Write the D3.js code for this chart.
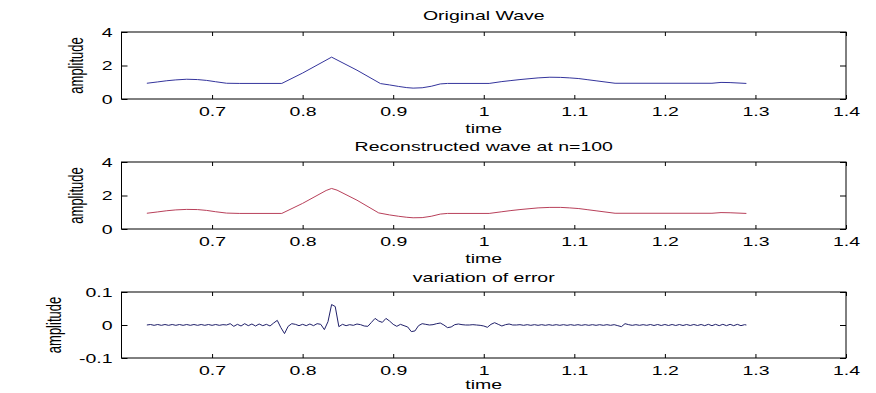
<!DOCTYPE html>
<html>
<head>
<meta charset="utf-8">
<script src="https://cdn.jsdelivr.net/npm/d3@7"></script>
<style>
  body { margin: 0; background: #fff; }
  text { font-family: "Liberation Sans", Arial, sans-serif; font-size: 13px; fill: #000; }
</style>
</head>
<body>
<div id="chart"></div>
<script>
"use strict";

// tick values (same x axis for all three panels)
const xTicks = [0.7, 0.8, 0.9, 1, 1.1, 1.2, 1.3, 1.4];
const waveYTicks = [0, 2, 4];
const errYTicks = [-0.1, 0, 0.1];

// original wave, [time, amplitude]
const originalWave = [
  [0.628, 0.94], [0.64, 1.02], [0.65, 1.09], [0.66, 1.14], [0.672, 1.18], [0.684, 1.16],
  [0.694, 1.11], [0.704, 1.03], [0.716, 0.94], [0.73, 0.93], [0.777, 0.93],
  [0.80, 1.55], [0.832, 2.5], [0.86, 1.72], [0.886, 0.92], [0.896, 0.84], [0.906, 0.75],
  [0.915, 0.68], [0.922, 0.65], [0.932, 0.67], [0.942, 0.76], [0.952, 0.9], [0.96, 0.93],
  [1.006, 0.93], [1.02, 1.04], [1.03, 1.1], [1.04, 1.16], [1.05, 1.21], [1.06, 1.26],
  [1.073, 1.3], [1.085, 1.29], [1.095, 1.26], [1.105, 1.22], [1.115, 1.15], [1.125, 1.08],
  [1.135, 1.01], [1.145, 0.94], [1.252, 0.94], [1.262, 0.99], [1.272, 0.98], [1.29, 0.93]
];

// reconstructed wave at n=100
const reconstructedWave = [
  [0.628, 0.94], [0.64, 1.02], [0.65, 1.09], [0.66, 1.14], [0.672, 1.17], [0.684, 1.16],
  [0.694, 1.11], [0.704, 1.03], [0.716, 0.95], [0.73, 0.93], [0.777, 0.93],
  [0.80, 1.53], [0.826, 2.3], [0.832, 2.42], [0.838, 2.32], [0.86, 1.72], [0.884, 0.96],
  [0.896, 0.84], [0.906, 0.76], [0.915, 0.7], [0.922, 0.67], [0.932, 0.68], [0.942, 0.76],
  [0.952, 0.89], [0.96, 0.93], [1.006, 0.93], [1.02, 1.03], [1.03, 1.1], [1.04, 1.16],
  [1.05, 1.21], [1.06, 1.26], [1.073, 1.29], [1.085, 1.29], [1.095, 1.26], [1.105, 1.22],
  [1.115, 1.15], [1.125, 1.08], [1.135, 1.01], [1.145, 0.94], [1.252, 0.94], [1.262, 0.98],
  [1.272, 0.97], [1.29, 0.93]
];

// error between the two, [time, error]
const errorWave = [
  [0.628, 0], [0.632, 0.0015], [0.636, -0.001], [0.64, 0.0015], [0.644, -0.001], [0.648, 0.0015],
  [0.652, -0.001], [0.656, 0.0015], [0.66, -0.001], [0.664, 0.0015], [0.668, -0.001], [0.672, 0.0015],
  [0.676, -0.001], [0.68, 0.0015], [0.684, -0.001], [0.688, 0.0015], [0.692, -0.001], [0.696, 0.0015],
  [0.70, -0.001], [0.704, 0.0015], [0.708, -0.001], [0.712, 0.001], [0.716, 0],
  [0.72, 0.004], [0.724, -0.004], [0.728, 0.002], [0.732, -0.003], [0.736, 0.004], [0.74, -0.002],
  [0.744, 0.003], [0.748, -0.003], [0.752, 0.003], [0.756, -0.002], [0.76, 0.002], [0.764, -0.003],
  [0.768, 0.006], [0.772, 0.014], [0.776, -0.008], [0.78, -0.026], [0.784, -0.004], [0.788, 0.004],
  [0.792, 0.002], [0.796, -0.002], [0.80, 0.002], [0.804, -0.002], [0.808, 0.003], [0.812, -0.002],
  [0.816, 0.004], [0.82, 0.002], [0.824, -0.014], [0.828, 0.01], [0.832, 0.062], [0.836, 0.056],
  [0.84, -0.005], [0.844, 0.002], [0.848, -0.002], [0.852, 0.001], [0.856, -0.001], [0.86, 0.003],
  [0.864, 0.001], [0.868, -0.003], [0.872, -0.004], [0.876, 0.008], [0.88, 0.02], [0.884, 0.012],
  [0.888, 0.008], [0.892, 0.02], [0.896, 0.012], [0.90, 0.002], [0.904, -0.004], [0.908, 0.002],
  [0.912, -0.002], [0.916, -0.006], [0.92, -0.02], [0.924, -0.018], [0.928, -0.002], [0.932, 0.004],
  [0.936, 0.002], [0.94, 0], [0.944, 0.001], [0.948, 0.004], [0.952, 0.006], [0.956, 0],
  [0.96, -0.008], [0.964, -0.006], [0.968, 0.001], [0.972, 0.003], [0.976, 0.001], [0.98, 0],
  [0.984, 0], [0.988, 0.001], [0.992, 0], [0.996, -0.001], [1.0, -0.003], [1.004, -0.007],
  [1.008, 0.002], [1.012, 0.007], [1.016, 0.002], [1.02, -0.003], [1.024, 0.001], [1.028, 0.003],
  [1.032, 0], [1.036, 0], [1.04, 0.001], [1.044, -0.001], [1.048, 0.001], [1.052, -0.001],
  [1.056, 0.001], [1.06, -0.001], [1.064, 0.001], [1.068, -0.001], [1.072, 0.001], [1.076, -0.001],
  [1.08, 0.001], [1.084, -0.001], [1.088, 0.001], [1.092, -0.001], [1.096, 0.001], [1.10, -0.001],
  [1.104, 0.001], [1.108, -0.001], [1.112, 0.001], [1.116, -0.001], [1.12, 0.001], [1.124, -0.001],
  [1.128, 0.001], [1.132, -0.001], [1.136, 0.001], [1.14, -0.001], [1.144, 0.001], [1.148, -0.002],
  [1.152, -0.005], [1.156, 0.004], [1.16, 0.001], [1.164, -0.001], [1.168, 0.001], [1.172, -0.001],
  [1.176, 0.001], [1.18, -0.001], [1.184, 0.0015], [1.188, -0.0015], [1.192, 0.0015], [1.196, -0.0015],
  [1.20, 0.0015], [1.204, -0.0015], [1.208, 0.0015], [1.212, -0.0015], [1.216, 0.0015], [1.22, -0.0015],
  [1.224, 0.0015], [1.228, -0.0015], [1.232, 0.0015], [1.236, -0.0015], [1.24, 0.0015], [1.244, -0.002],
  [1.248, 0.002], [1.252, -0.002], [1.256, 0.002], [1.26, -0.002], [1.264, 0.002], [1.268, -0.002],
  [1.272, 0.002], [1.276, -0.002], [1.28, 0.002], [1.284, -0.002], [1.288, 0.001], [1.29, 0]
];

const W = 876, H = 393;
const SX = 1.5; // the figure is stretched sideways, text too

const svg = d3.select("#chart")
  .append("svg")
  .attr("width", W)
  .attr("height", H);

svg.append("rect").attr("width", W).attr("height", H).attr("fill", "#fff");

const x = d3.scaleLinear().domain([0.6, 1.4]).range([121.5, 846]);

const panels = [
  { title: "Original Wave", data: originalWave, domain: [0, 4], ticks: waveYTicks,
    top: 32, bottom: 99, color: "#34349c", labelX: 76, titleY: 20, timeY: 133 },
  { title: "Reconstructed wave at n=100", data: reconstructedWave, domain: [0, 4], ticks: waveYTicks,
    top: 162, bottom: 229, color: "#b8405a", labelX: 76, titleY: 151, timeY: 263 },
  { title: "variation of error", data: errorWave, domain: [-0.1, 0.1], ticks: errYTicks,
    top: 292, bottom: 358, color: "#20206a", labelX: 54, titleY: 282, timeY: 389 }
];

// stretched text helper
function stretchedText(g, tx, ty, str, rotate) {
  return g.append("text")
    .attr("transform", `translate(${tx},${ty}) scale(${SX},1)` + (rotate ? " rotate(-90)" : ""))
    .attr("text-anchor", "middle")
    .text(str);
}

for (const p of panels) {
  const y = d3.scaleLinear().domain(p.domain).range([p.bottom, p.top]);
  const g = svg.append("g");

  // ticks on all four sides, pointing inward
  const bottomAxis = g.append("g")
    .attr("transform", `translate(0,${p.bottom})`)
    .call(d3.axisBottom(x).tickValues(xTicks).tickSize(-4).tickPadding(8)
      .tickFormat(d => String(d)));
  g.append("g")
    .attr("transform", `translate(0,${p.top})`)
    .call(d3.axisTop(x).tickValues(xTicks).tickSize(-4).tickFormat(""));
  const leftAxis = g.append("g")
    .attr("transform", `translate(${x.range()[0]},0)`)
    .call(d3.axisLeft(y).tickValues(p.ticks).tickSize(-6).tickPadding(9)
      .tickFormat(d => String(d)));
  g.append("g")
    .attr("transform", `translate(${x.range()[1]},0)`)
    .call(d3.axisRight(y).tickValues(p.ticks).tickSize(-6).tickFormat(""));

  g.selectAll(".domain").remove();
  g.selectAll(".tick line").attr("stroke", "#000");

  bottomAxis.selectAll("text")
    .attr("transform", `scale(${SX},1)`)
    .style("font-size", "13px");
  leftAxis.selectAll("text")
    .attr("x", -9 / SX)
    .attr("transform", `scale(${SX},1)`)
    .style("font-size", "13px");

  // frame
  g.append("rect")
    .attr("x", x.range()[0])
    .attr("y", p.top)
    .attr("width", x.range()[1] - x.range()[0])
    .attr("height", p.bottom - p.top)
    .attr("fill", "none")
    .attr("stroke", "#000")
    .attr("stroke-width", 1);

  const line = d3.line()
    .x(d => x(d[0]))
    .y(d => y(d[1]));

  g.append("path")
    .datum(p.data)
    .attr("d", line)
    .attr("fill", "none")
    .attr("stroke", p.color)
    .attr("stroke-width", 1);

  const cx = (x.range()[0] + x.range()[1]) / 2;
  stretchedText(g, cx, p.titleY, p.title);
  stretchedText(g, cx, p.timeY, "time");
  stretchedText(g, p.labelX, (p.top + p.bottom) / 2, "amplitude", true)
    .attr("dy", "0.35em");
}
</script>
</body>
</html>
